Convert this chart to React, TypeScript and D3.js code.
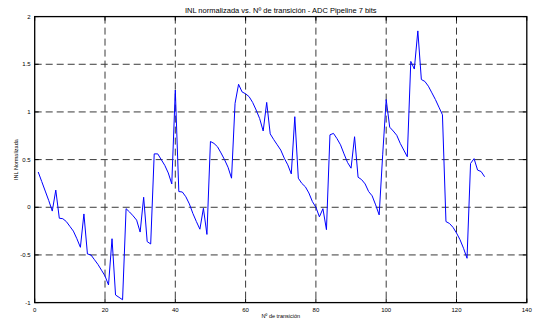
import React, { useEffect, useRef } from "react";
import * as d3 from "d3";

// INL per transition (transitions 1..128)
const transitions = d3.range(1, 129);
const inlValues = [
  0.37, 0.27, 0.17, 0.07, -0.04, 0.18, -0.115, -0.12, -0.15, -0.2,
  -0.25, -0.33, -0.42, -0.07, -0.49, -0.5, -0.55, -0.6, -0.66, -0.72,
  -0.815, -0.33, -0.92, -0.945, -0.97, -0.015, -0.05, -0.09, -0.135, -0.26,
  0.105, -0.36, -0.385, 0.56, 0.56, 0.5, 0.44, 0.36, 0.245, 1.23,
  0.165, 0.16, 0.11, 0.035, -0.065, -0.15, -0.23, -0.01, -0.285, 0.69,
  0.67, 0.635, 0.57, 0.5, 0.42, 0.305, 1.09, 1.29, 1.21, 1.19,
  1.16, 1.1, 1.02, 0.93, 0.8, 1.1, 0.77, 0.71, 0.655, 0.6,
  0.515, 0.445, 0.35, 0.95, 0.305, 0.25, 0.215, 0.15, 0.06, 0.0,
  -0.1, -0.015, -0.235, 0.76, 0.775, 0.72, 0.655, 0.56, 0.47, 0.41,
  0.74, 0.315, 0.29, 0.245, 0.165, 0.12, 0.025, -0.08, 0.55, 1.13,
  0.84, 0.8, 0.755, 0.67, 0.6, 0.53, 1.53, 1.45, 1.85, 1.34,
  1.32, 1.27, 1.2, 1.13, 1.05, 0.97, -0.15, -0.17, -0.21, -0.27,
  -0.34, -0.43, -0.535, 0.46, 0.51, 0.39, 0.375, 0.32,
];
const xTicks = [0, 20, 40, 60, 80, 100, 120, 140];
const yTicks = [-1, -0.5, 0, 0.5, 1, 1.5, 2];

const titleText = "INL normalizada vs. Nº de transición - ADC Pipeline 7 bits";
const xLabelText = "Nº de transición";
const yLabelText = "INL Normalizada";

const W = 534, H = 321;
const box = { left: 34.7, right: 526.8, top: 16.6, bottom: 302.6 };

const drawChart = (container: SVGSVGElement | null) => {
  if (!container) return;
  const svg = d3.select(container);
  svg.selectAll("*").remove();

  const x = d3.scaleLinear().domain([0, 140]).range([box.left, box.right]);
  const y = d3.scaleLinear().domain([-1, 2]).range([box.bottom, box.top]);
  const font = "Liberation Sans, Arial, sans-serif";

  svg.append("rect").attr("width", W).attr("height", H).attr("fill", "#fff");

  // dashed grid
  const grid = svg.append("g")
    .attr("stroke", "#3a3a3a")
    .attr("stroke-width", 1)
    .attr("stroke-dasharray", "7,4");
  grid.selectAll("line.gx")
    .data(xTicks.slice(1, -1))
    .join("line")
    .attr("x1", (d) => x(d)).attr("x2", (d) => x(d))
    .attr("y1", box.top).attr("y2", box.bottom);
  grid.selectAll("line.gy")
    .data(yTicks.slice(1, -1))
    .join("line")
    .attr("x1", box.left).attr("x2", box.right)
    .attr("y1", (d) => y(d)).attr("y2", (d) => y(d));

  // data line
  const line = d3.line<number>()
    .x((_, i) => x(transitions[i]))
    .y((d) => y(d));
  svg.append("path")
    .datum(inlValues)
    .attr("d", line)
    .attr("fill", "none")
    .attr("stroke", "#0000ff")
    .attr("stroke-width", 1);

  // box + inward ticks on all sides
  svg.append("rect")
    .attr("x", box.left).attr("y", box.top)
    .attr("width", box.right - box.left).attr("height", box.bottom - box.top)
    .attr("fill", "none").attr("stroke", "#000").attr("stroke-width", 1.3);
  const tl = 4;
  const ticks = svg.append("g").attr("stroke", "#000").attr("stroke-width", 1);
  xTicks.forEach((t) => {
    ticks.append("line").attr("x1", x(t)).attr("x2", x(t)).attr("y1", box.bottom).attr("y2", box.bottom - tl);
    ticks.append("line").attr("x1", x(t)).attr("x2", x(t)).attr("y1", box.top).attr("y2", box.top + tl);
  });
  yTicks.forEach((t) => {
    ticks.append("line").attr("x1", box.left).attr("x2", box.left + tl).attr("y1", y(t)).attr("y2", y(t));
    ticks.append("line").attr("x1", box.right).attr("x2", box.right - tl).attr("y1", y(t)).attr("y2", y(t));
  });

  // tick labels
  svg.append("g").selectAll("text")
    .data(xTicks)
    .join("text")
    .attr("x", (d) => x(d))
    .attr("y", box.bottom + 9)
    .attr("text-anchor", "middle")
    .attr("font-family", font)
    .attr("font-size", 6)
    .text((d) => String(d));
  svg.append("g").selectAll("text")
    .data(yTicks)
    .join("text")
    .attr("x", box.left - 4)
    .attr("y", (d) => y(d) + 2)
    .attr("text-anchor", "end")
    .attr("font-family", font)
    .attr("font-size", 6)
    .text((d) => String(d));

  // title and axis labels
  svg.append("text")
    .attr("x", (box.left + box.right) / 2).attr("y", 12.5)
    .attr("text-anchor", "middle")
    .attr("font-family", font).attr("font-size", 7.5)
    .text(titleText);
  svg.append("text")
    .attr("x", (box.left + box.right) / 2).attr("y", 318)
    .attr("text-anchor", "middle")
    .attr("font-family", font).attr("font-size", 5.5)
    .text(xLabelText);
  svg.append("text")
    .attr("transform", `translate(18,${(box.top + box.bottom) / 2}) rotate(-90)`)
    .attr("text-anchor", "middle")
    .attr("font-family", font).attr("font-size", 5.5)
    .text(yLabelText);
};

export default function App() {
  const ref = useRef<SVGSVGElement>(null);
  useEffect(() => {
    drawChart(ref.current);
  }, []);
  return (
    <svg
      ref={ref}
      width={W}
      height={H}
      style={{ position: "absolute", left: 0, top: 0, display: "block" }}
    />
  );
}
